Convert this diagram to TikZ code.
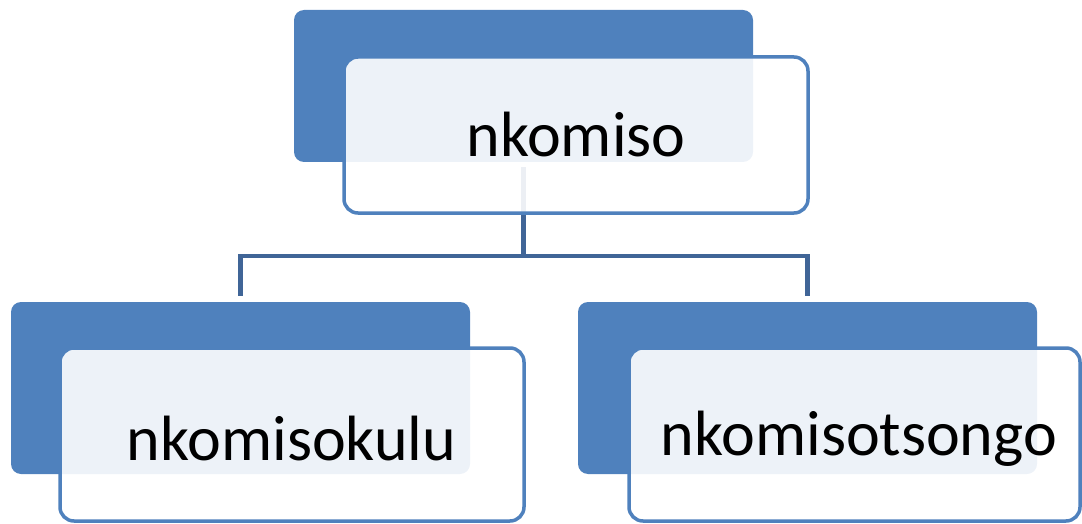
\documentclass[tikz,border=0pt]{standalone}
\usepackage{fontspec}
\setmainfont{Carlito}
\definecolor{accent}{RGB}{79,129,189}
\definecolor{connblue}{RGB}{64,101,151}
\begin{document}
\begin{tikzpicture}[x=1pt,y=-1pt,
  backbox/.style={fill=accent,draw=none,rounded corners=10pt,inner sep=0pt},
  frontbox/.style={fill=white,fill opacity=0.9,draw=accent,draw opacity=1,line width=3.5pt,rounded corners=14pt,inner sep=0pt},
  label/.style={anchor=base,inner sep=0pt,font=\fontsize{64pt}{70pt}\selectfont},
  conn/.style={draw=connblue,line width=4.5pt}]
\useasboundingbox (0,0) rectangle (1082,524);
% back boxes
\node[backbox,minimum width=459pt,minimum height=152pt] (topback) at (523.5,86) {};
\node[backbox,minimum width=459pt,minimum height=172pt] (lback) at (240.5,388) {};
\node[backbox,minimum width=459pt,minimum height=172pt] (rback) at (807.5,388) {};
% connectors
\coordinate (mid) at (523.5,256);
\draw[conn] ([yshift=-5pt]topback.south) -- (mid);
\draw[conn] ([yshift=6pt]lback.north) |- (mid) -| ([yshift=6pt]rback.north);
% front boxes
\node[frontbox,minimum width=464pt,minimum height=156pt] (topfront) at (576,135) {};
\node[frontbox,minimum width=464pt,minimum height=173pt] (lfront) at (292,434.5) {};
\node[frontbox,minimum width=451pt,minimum height=173pt] (rfront) at (854.5,434.5) {};
% texts
\node[label] (toptext) at (576,157) {nkomiso};
\node[label] (ltext) at (291.5,460) {nkomisokulu};
\node[label] (rtext) at (859,455) {nkomisotsongo};
\end{tikzpicture}
\end{document}
